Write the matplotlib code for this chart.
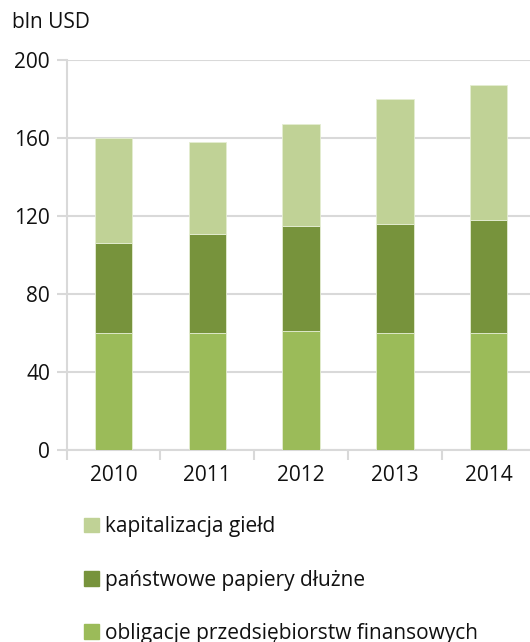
import numpy as np
import matplotlib.pyplot as plt
from matplotlib.patches import Patch

years = ["2010", "2011", "2012", "2013", "2014"]
obligacje = [60, 60, 61, 60, 60]
panstwowe = [46, 51, 54, 56, 58]
kapitalizacja = [54, 47, 52, 64, 69]

labels = ["obligacje przedsiębiorstw finansowych",
          "państwowe papiery dłużne",
          "kapitalizacja giełd"]
colors = ["#9BBB59", "#77933C", "#C0D296"]

plt.rcParams['font.family'] = ['Open Sans', 'DejaVu Sans']
plt.rcParams['text.color'] = "#111111"
grid_color = "#D9D9D9"

fig = plt.figure(figsize=(5.30, 6.42), dpi=100)
ax = fig.add_axes([66.6 / 530, 192 / 642, 469 / 530, 390 / 642])

x = np.arange(len(years))
width = 0.4
bottom = np.zeros(len(years))
handles = []
for vals, lab, col in zip([obligacje, panstwowe, kapitalizacja], labels, colors):
    ax.bar(x, vals, width, bottom=bottom, color=col, edgecolor="#E4EDD2",
           linewidth=0.6, zorder=3)
    bottom += np.array(vals)
    handles.append(Patch(facecolor=col, edgecolor=col, label=lab))

ax.set_xlim(-0.5, len(years) - 0.5)
ax.set_ylim(0, 200)
ax.set_yticks([0, 40, 80, 120, 160, 200])
ax.yaxis.grid(True, color=grid_color, linewidth=1.5, zorder=0)
ax.set_axisbelow(True)

ax.set_xticks(x)
ax.set_xticklabels(years)
ax.set_xticks(np.arange(len(years) + 1) - 0.5, minor=True)
ax.tick_params(axis="x", which="major", length=0, pad=11, labelsize=15,
               labelcolor="#111111")
ax.tick_params(axis="x", which="minor", length=7, width=1.5, color=grid_color)
ax.tick_params(axis="y", length=7, width=1.5, color=grid_color, pad=5,
               labelsize=15, labelcolor="#111111")

for s in ["top", "right"]:
    ax.spines[s].set_visible(False)
for s in ["left", "bottom"]:
    ax.spines[s].set_color(grid_color)
    ax.spines[s].set_linewidth(1.5)

fig.text(12 / 530, 1 - 22 / 642, "bln USD", fontsize=15, va="center", ha="left")

fig.legend(handles=handles[::-1], loc="upper left",
           bbox_to_anchor=(76 / 530, 1 - 508 / 642), frameon=False,
           fontsize=15, handlelength=0.7, handleheight=0.7,
           handletextpad=0.3, labelspacing=1.55, borderaxespad=0)

fig.savefig("out.png", dpi=100)
